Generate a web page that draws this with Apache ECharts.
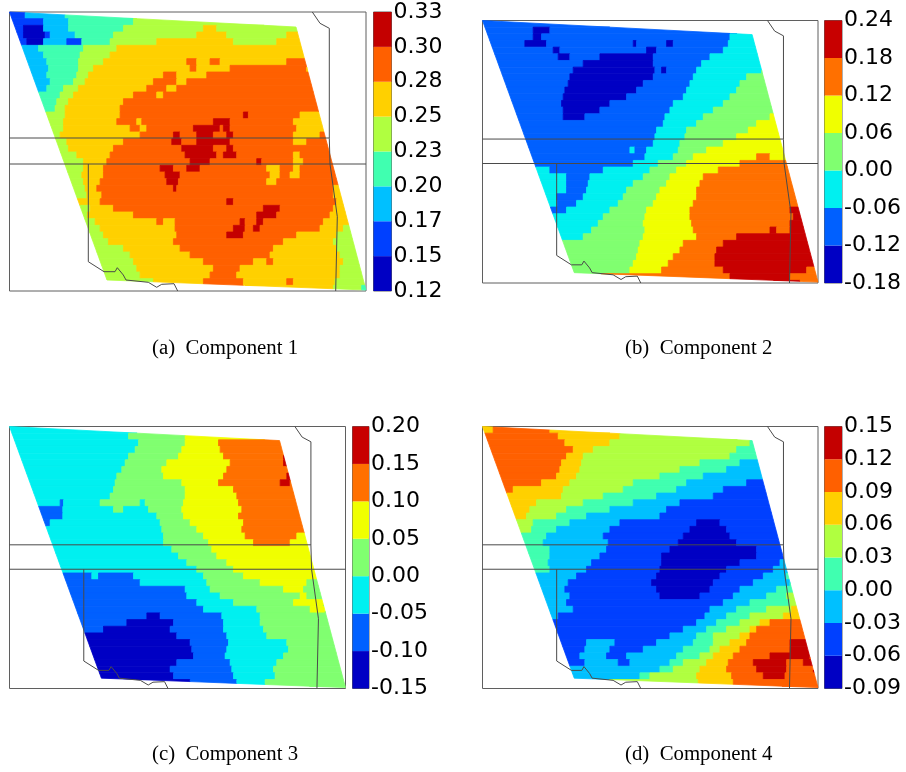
<!DOCTYPE html>
<html><head><meta charset="utf-8">
<style>html,body{margin:0;padding:0;background:#fff}#c{width:906px;height:772px}</style>
<script src="https://cdn.jsdelivr.net/npm/echarts@6/dist/echarts.min.js"></script>
</head><body><div id="c"></div>
<script>
// Each row is one west-to-east scan of the map: band index, easting where the band ends, band index, ...
// Eastings and row northings are in the survey units of each panel's own axes.
const comp1Rows=[
[1,75,2,195,3,400,4,1100],
[1,130,2,205,3,400,4,1100],
[1,70,0,130,2,205,3,370,4,610,5,650,4,1100],
[1,70,0,135,1,150,2,225,3,340,4,590,5,680,4,860,5,1100],
[1,80,0,130,2,200,1,245,3,330,4,470,5,700,4,830,5,1100],
[2,115,3,250,4,350,5,1100],
[2,130,3,240,4,330,5,1100],
[2,140,3,235,4,310,5,560,6,590,5,630,6,660,5,860,6,1100],
[2,145,3,235,4,280,5,570,6,590,5,690,6,920,5,1100],
[2,140,3,230,4,265,5,490,6,530,5,620,6,940,5,1100],
[2,150,3,220,4,255,5,460,6,530,5,560,6,1100],
[2,140,3,190,4,235,5,440,6,500,5,530,6,1100],
[3,180,4,220,5,400,6,470,5,490,6,1100],
[3,170,4,205,5,370,6,1100],
[3,165,4,195,5,360,6,1100],
[4,195,5,360,6,730,7,745,6,900,5,1100],
[4,190,5,350,6,410,5,425,6,640,7,690,6,880,5,1100],
[4,190,5,390,6,420,5,440,6,580,7,660,6,670,7,690,6,890,5,1100],
[4,180,5,420,6,520,7,540,6,590,7,640,6,680,7,700,6,880,5,960,6,1100],
[4,200,5,370,6,515,7,545,6,590,7,690,6,880,5,920,6,1100],
[4,205,5,340,6,545,7,640,6,680,7,700,6,1100],
[4,230,5,330,6,555,7,650,6,670,7,710,6,880,5,900,6,1100],
[4,250,5,320,6,570,7,630,6,770,7,785,6,880,5,910,6,1100],
[4,250,5,310,6,480,7,520,6,560,7,600,6,800,5,840,6,880,5,900,6,1100],
[4,245,5,310,6,495,7,540,6,810,5,840,6,870,5,900,6,1100],
[4,250,5,300,6,500,7,535,6,800,5,830,6,1100],
[4,255,5,290,6,520,7,530,6,1000,5,1100],
[4,260,5,305,6,1000,5,1100],
[5,300,6,680,7,700,6,1010,5,1100],
[4,270,5,340,6,790,7,840,6,1000,5,1100],
[4,262,5,400,6,770,7,830,6,990,5,1100],
[4,285,5,470,6,490,5,525,6,720,7,735,6,770,7,790,6,970,5,1100],
[4,300,5,525,6,700,7,735,6,760,7,780,6,960,5,1030,4,1100],
[4,310,5,530,6,680,7,730,6,890,5,1010,4,1100],
[4,325,5,520,6,850,5,1000,4,1100],
[4,370,5,540,6,820,5,1010,4,1100],
[4,390,5,570,6,810,5,1020,4,1100],
[4,400,5,610,6,760,5,800,6,820,5,1030,4,1100],
[4,410,5,640,6,720,5,1020,4,1100],
[4,420,5,630,6,710,5,1020,4,1100],
[4,460,5,610,6,730,5,860,6,880,5,1005,4,1100],
[5,1000,4,1085,3,1100]];
const comp2Rows=[
[1,1100],
[1,190,0,240,1,1100],
[1,190,0,215,1,780,2,1100],
[1,165,0,230,1,490,0,500,1,590,0,610,1,775,2,1100],
[1,250,0,270,1,530,0,560,1,760,2,1100],
[1,265,0,300,1,390,0,550,1,720,2,1100],
[1,340,0,550,1,695,2,1100],
[1,310,0,555,1,575,0,590,1,680,2,875,3,1100],
[1,300,0,550,1,670,2,830,3,1100],
[1,295,0,520,1,660,2,810,3,1100],
[1,285,0,500,1,650,2,800,3,1100],
[1,280,0,470,1,640,2,780,3,1100],
[1,275,0,420,1,610,2,760,3,1100],
[1,280,0,390,1,600,2,730,3,1100],
[1,280,0,345,1,585,2,700,3,900,4,1100],
[1,580,2,680,3,860,4,1100],
[1,560,2,650,3,835,4,1100],
[1,555,2,645,3,800,4,1100],
[1,550,2,630,3,760,4,1100],
[1,480,2,495,1,530,2,625,3,710,4,1100],
[1,525,2,610,3,670,4,860,5,900,4,1100],
[1,490,2,565,3,650,4,810,5,1100],
[2,240,1,400,2,540,3,620,4,745,5,1100],
[2,290,1,360,2,520,3,600,4,700,5,1100],
[2,290,1,355,2,490,3,590,4,690,5,1100],
[2,290,1,350,2,470,3,570,4,680,5,1100],
[2,260,1,340,2,460,3,560,4,680,5,1100],
[2,262,1,320,2,445,3,550,4,670,5,1100],
[1,290,2,420,3,530,4,660,5,960,6,1100],
[2,400,3,525,4,660,5,970,6,1100],
[2,385,3,520,4,665,5,960,6,1100],
[2,365,3,525,4,670,5,900,6,920,5,960,6,1100],
[2,340,3,520,4,680,5,800,6,1100],
[3,510,4,640,5,760,6,1100],
[3,505,4,630,5,740,6,1100],
[3,500,4,610,5,735,6,1030,5,1100],
[3,490,4,595,5,735,6,1035,5,1100],
[3,480,4,575,5,760,6,1010,5,1100],
[5,780,6,960,5,1100],
[6,990,5,1100]];
const comp3Rows=[
[2,1100],
[2,385,3,555,4,1100],
[2,415,3,555,4,655,5,1100],
[2,405,3,545,4,660,5,1100],
[2,385,3,535,4,670,5,850,6,1100],
[2,375,3,500,4,690,5,850,6,865,5,1100],
[2,365,3,485,4,680,5,1100],
[2,350,3,490,4,670,5,860,6,880,5,1100],
[2,345,3,545,4,655,5,840,6,870,5,1100],
[2,340,3,555,4,700,5,1100],
[2,330,3,555,4,710,5,1100],
[2,180,1,190,2,300,3,420,2,435,3,550,4,715,5,1100],
[1,188,2,340,3,370,2,445,3,545,4,725,5,1100],
[1,188,2,470,3,550,4,715,5,1100],
[1,150,2,480,3,570,4,730,5,1100],
[2,485,3,590,4,725,5,1100],
[2,490,3,610,4,735,5,890,4,1100],
[2,490,3,625,4,760,5,870,4,1100],
[2,515,3,635,4,1100],
[2,535,3,650,4,1100],
[2,560,3,680,4,1100],
[2,590,3,700,4,1100],
[1,275,2,295,1,400,2,610,3,730,4,950,3,1100],
[1,420,2,620,3,780,4,920,3,1100],
[1,555,2,630,3,850,4,910,3,1100],
[1,560,2,660,3,900,4,920,3,1100],
[1,590,2,700,3,880,4,970,3,1100],
[1,610,2,770,3,930,4,975,3,1100],
[1,440,0,480,1,665,2,780,3,1100],
[1,380,0,520,1,670,2,780,3,1100],
[1,310,0,510,1,670,2,790,3,1100],
[0,530,1,680,2,800,3,1100],
[0,570,1,685,2,860,3,1100],
[0,575,1,680,2,865,3,1100],
[0,580,1,675,2,850,3,1100],
[0,530,1,690,2,830,3,1100],
[0,510,1,695,2,820,3,1100],
[0,520,1,700,2,825,3,1100],
[0,570,1,710,2,795,3,1100],
[2,800,3,1100]];
const comp4Rows=[
[5,70,6,240,5,1100],
[6,265,5,450,4,1100],
[6,285,5,420,4,840,3,1100],
[6,310,5,370,4,800,3,1100],
[6,290,5,340,4,780,3,1100],
[6,275,5,335,4,690,3,810,2,1100],
[6,270,5,330,4,630,3,770,2,1100],
[6,260,5,320,4,570,3,700,2,1100],
[6,215,5,300,4,490,3,650,2,830,1,1100],
[6,130,5,280,4,460,3,620,2,760,1,1100],
[5,275,4,400,3,560,2,730,1,1100],
[5,200,4,340,3,490,2,630,1,1100],
[5,180,4,290,3,420,2,590,1,1100],
[5,170,4,260,3,350,2,570,1,1100],
[4,190,3,300,2,450,1,680,0,750,1,1100],
[4,185,3,260,2,420,1,660,0,770,1,1100],
[3,230,2,400,1,640,0,780,1,1100],
[3,220,2,415,1,625,0,800,1,1100],
[3,240,2,410,1,600,0,860,1,1100],
[3,240,2,390,1,575,0,860,1,1100],
[3,235,2,365,1,575,0,810,1,930,2,1100],
[3,240,2,350,1,570,0,770,1,910,2,1100],
[2,320,1,560,0,750,1,880,2,950,3,1100],
[2,295,1,545,0,730,1,850,2,960,3,1100],
[2,285,1,560,0,720,1,810,2,920,3,1100],
[2,300,1,570,0,690,1,790,2,890,3,950,4,1100],
[2,290,1,760,2,840,3,960,4,1100],
[2,310,1,720,2,800,3,890,4,965,5,1100],
[2,265,1,705,2,770,3,840,4,940,5,1100],
[1,680,2,740,3,810,4,870,5,900,6,1100],
[1,640,2,710,3,770,4,840,5,860,6,1100],
[1,600,2,680,3,730,4,810,5,840,6,1100],
[1,350,2,435,1,560,2,670,3,730,4,780,5,830,6,960,7,1100],
[1,345,2,420,1,520,2,640,3,720,4,750,5,810,6,960,7,1020,6,1100],
[1,330,2,410,1,470,2,620,3,690,4,730,5,790,6,900,7,1020,6,1100],
[1,345,2,445,1,480,2,600,3,640,4,710,5,775,6,850,7,950,6,1000,7,1100],
[2,570,3,610,4,690,5,770,6,860,7,950,6,1030,7,1100],
[2,510,3,540,4,680,5,785,6,880,7,945,6,1100],
[4,685,5,790,6,1100],
[6,1100]];

// Colour-bar tick labels, bottom to top
const comp1Ticks=['0.12','0.15','0.17','0.20','0.23','0.25','0.28','0.30','0.33'];
const comp2Ticks=['-0.18','-0.12','-0.06','0.00','0.06','0.12','0.18','0.24'];
const comp3Ticks=['-0.15','-0.10','-0.05','0.00','0.05','0.10','0.15','0.20'];
const comp4Ticks=['-0.09','-0.06','-0.03','0.00','0.03','0.06','0.09','0.12','0.15'];

const captions=['(a)  Component 1','(b)  Component 2','(c)  Component 3','(d)  Component 4'];
const bands8=['#0000c4','#0040ff','#00c0ff','#40ffb0','#b0ff40','#ffd000','#ff6000','#c40000'];
const bands7=['#0000c4','#0060ff','#00f0f0','#80ff70','#f0ff00','#ff7000','#c80000'];

// Shared map geography in map units (frame = mapWidth x mapHeight)
const mapWidth=356.5, mapHeight=279;
const swathCorners=[[0,0],[286.5,15],[356.5,278],[97.5,268]];
const border1=[[0,126],[319.8,126]];
const border2=[[0,152],[356.5,152]];
const border3=[[78.8,152],[78.8,249.7],[94.5,259.7],[105.5,259.7],[107.8,255.7],[113.8,263],[116.5,268],[138.8,270.3],[147.2,275.3],[152.2,272.3],[164.5,271.7],[168.2,279]];
const border4=[[302.8,0],[310.5,11.3],[319.8,16.3],[319.8,126.3],[320.5,152],[327.8,204.7],[326.2,279]];
const borders=[border1,border2,border3,border4];
const rowStep=20;

const panels=[
 {rows:comp1Rows,ticks:comp1Ticks,colors:bands8,ext:[28,1098,36,873],map:[9.5,12,356.5,279],bar:[373.5,12,18,279],cap:[152,338]},
 {rows:comp2Rows,ticks:comp2Ticks,colors:bands7,ext:[38,1044,31,819],map:[482.5,20.5,335.5,262.5],bar:[824.5,20.5,17.5,262.5],cap:[625,338]},
 {rows:comp3Rows,ticks:comp3Ticks,colors:bands7,ext:[28,1036,34,821],map:[9.5,426.5,336,262],bar:[352.5,426.5,16.5,262],cap:[152,744]},
 {rows:comp4Rows,ticks:comp4Ticks,colors:bands8,ext:[38,1044,34,821],map:[482.5,426.5,335.5,262],bar:[824.5,426.5,17.5,262],cap:[625,744]}
];

function clipToQuad(poly,quad){
  let out=poly;
  for(let i=0;i<quad.length;i++){
    const A=quad[i],B=quad[(i+1)%quad.length],inp=out;out=[];
    const side=P=>(B[0]-A[0])*(P[1]-A[1])-(B[1]-A[1])*(P[0]-A[0]);
    for(let j=0;j<inp.length;j++){
      const P=inp[j],Q=inp[(j+1)%inp.length],sp=side(P),sq=side(Q);
      if(sp>=0)out.push(P);
      if((sp>=0)!==(sq>=0)){const t=sp/(sp-sq);out.push([P[0]+(Q[0]-P[0])*t,P[1]+(Q[1]-P[1])*t]);}
    }
    if(!out.length)break;
  }
  return out;
}
const grid=[],xAxis=[],yAxis=[],series=[],title=[];
panels.forEach((p,i)=>{
  const [x0,x1,y0,y1]=p.ext;
  const toSurvey=m=>[x0+m[0]/mapWidth*(x1-x0),y0+m[1]/mapHeight*(y1-y0)];
  const quad=swathCorners.map(toSurvey);
  const mapIdx=grid.length;
  grid.push({left:p.map[0],top:p.map[1],width:p.map[2],height:p.map[3],show:true,borderColor:'#5f5f5f',borderWidth:1,backgroundColor:'#fff'});
  xAxis.push({gridIndex:mapIdx,type:'value',min:x0,max:x1,show:false});
  yAxis.push({gridIndex:mapIdx,type:'value',min:y0,max:y1,inverse:true,show:false});
  const runs=[];
  p.rows.forEach((row,r)=>{
    let start=0;
    for(let k=0;k<row.length;k+=2){runs.push([start,row[k+1],y0+r*rowStep,row[k]]);start=row[k+1];}
  });
  series.push({type:'custom',xAxisIndex:mapIdx,yAxisIndex:mapIdx,data:runs,silent:true,clip:false,z:2,
    renderItem:(params,api)=>{
      const a=api.value(0),b=api.value(1),t=api.value(2),col=p.colors[api.value(3)];
      const poly=clipToQuad([[a,t],[b,t],[b,t+rowStep],[a,t+rowStep]],quad);
      if(poly.length<3)return null;
      return {type:'polygon',shape:{points:poly.map(q=>api.coord(q))},style:{fill:col,stroke:col,lineWidth:0.8}};
    }});
  borders.forEach(b=>series.push({type:'line',xAxisIndex:mapIdx,yAxisIndex:mapIdx,data:b.map(toSurvey),showSymbol:false,silent:true,z:5,clip:false,lineStyle:{color:'#4a4a4a',width:1}}));
  const barIdx=grid.length,n=p.colors.length;
  grid.push({left:p.bar[0],top:p.bar[1],width:p.bar[2],height:p.bar[3],show:true,borderColor:'#5f5f5f',borderWidth:1});
  xAxis.push({gridIndex:barIdx,type:'value',min:0,max:1,show:false});
  yAxis.push({gridIndex:barIdx,type:'value',min:0,max:n,interval:1,position:'right',
    axisLine:{show:false},axisTick:{show:false},splitLine:{show:false},
    axisLabel:{show:true,margin:2,fontFamily:'DejaVu Sans',fontSize:22,color:'#000',padding:[0,0,6,0],showMinLabel:true,showMaxLabel:true,formatter:v=>p.ticks[v]}});
  series.push({type:'custom',xAxisIndex:barIdx,yAxisIndex:barIdx,data:p.colors.map((c,k)=>[k]),silent:true,z:2,
    renderItem:(params,api)=>{
      const k=api.value(0),a=api.coord([0,k+1]),b=api.coord([1,k]);
      return {type:'rect',shape:{x:a[0],y:a[1],width:b[0]-a[0],height:b[1]-a[1]},style:{fill:p.colors[k]}};
    }});
  title.push({text:captions[i],left:p.cap[0],top:p.cap[1],textStyle:{fontFamily:'Liberation Serif',fontSize:20.8,fontWeight:'normal',color:'#000'},padding:0});
});
const chart=echarts.init(document.getElementById('c'),null,{renderer:'canvas'});
chart.setOption({animation:false,backgroundColor:'#fff',title,grid,xAxis,yAxis,series});
</script></body></html>
